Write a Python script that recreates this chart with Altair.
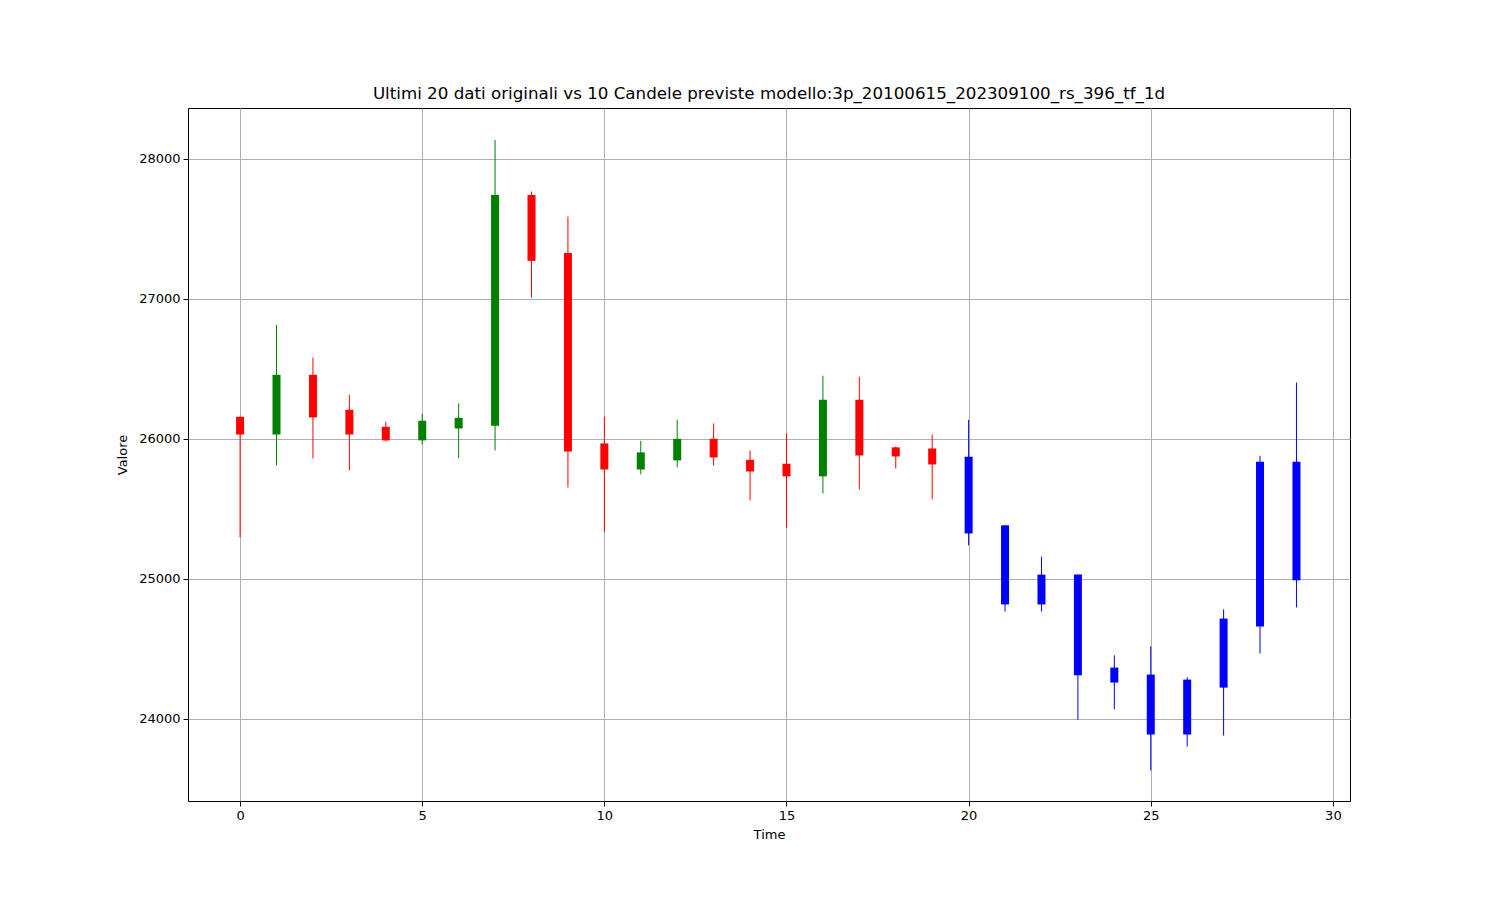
import altair as alt
import pandas as pd

t = list(range(30))
opens = [26158, 26032, 26458, 26208, 26087, 25990, 26075, 26094, 27743, 27329,
         25968, 25782, 25847, 26001, 25851, 25823, 25733, 26280, 25940, 25932,
         25873, 25383, 25031, 25031, 24367, 24317, 24281, 24717, 25837, 25837]
closes = [26032, 26458, 26154, 26032, 25990, 26130, 26151, 27743, 27272, 25911,
          25782, 25904, 26001, 25868, 25768, 25733, 26280, 25882, 25875, 25818,
          25325, 24818, 24818, 24312, 24260, 23889, 23889, 24224, 24660, 24990]
highs = [26160, 26815, 26582, 26315, 26123, 26180, 26254, 28136, 27767, 27588,
         26158, 25987, 26137, 26111, 25918, 26039, 26451, 26444, 25947, 26032,
         26137, 25383, 25159, 25031, 24455, 24519, 24298, 24783, 25880, 26403]
lows = [25297, 25811, 25861, 25775, 25982, 25961, 25861, 25918, 27010, 25654,
        25333, 25747, 25797, 25811, 25561, 25368, 25611, 25640, 25789, 25568,
        25240, 24767, 24767, 23995, 24069, 23632, 23803, 23882, 24467, 24797]
colors = ["red", "green", "red", "red", "red", "green", "green", "green", "red", "red",
          "red", "green", "green", "red", "red", "red", "green", "red", "red", "red",
          "blue", "blue", "blue", "blue", "blue", "blue", "blue", "blue", "blue", "blue"]

df = pd.DataFrame({"t": t, "open": opens, "close": closes, "high": highs,
                   "low": lows, "col": colors})

xs = alt.Scale(domain=[-1.43, 30.47], nice=False, zero=False, padding=0)
ys = alt.Scale(domain=[23414, 28364], nice=False, zero=False, padding=0)

base = alt.Chart(df)

wick = base.mark_rule(strokeWidth=1).encode(
    x=alt.X("t:Q", scale=xs,
            axis=alt.Axis(title="Time", values=[0, 5, 10, 15, 20, 25, 30], format="d")),
    y=alt.Y("low:Q", scale=ys,
            axis=alt.Axis(title="Valore", values=[24000, 25000, 26000, 27000, 28000], format="d")),
    y2="high:Q",
    color=alt.Color("col:N", scale=None),
)

body = base.mark_bar(size=8).encode(
    x=alt.X("t:Q", scale=xs),
    y=alt.Y("open:Q", scale=ys),
    y2="close:Q",
    color=alt.Color("col:N", scale=None),
)

chart = (wick + body).properties(
    width=1162,
    height=693,
    title=alt.Title("Ultimi 20 dati originali vs 10 Candele previste modello:3p_20100615_202309100_rs_396_tf_1d",
                    fontSize=16.7, font="DejaVu Sans", fontWeight="normal", color="black",
                    offset=5, anchor="middle"),
    autosize=alt.AutoSizeParams(type="none"),
    padding={"left": 180, "top": 100, "right": 140, "bottom": 90},
    background="white",
).configure_view(
    stroke="black", strokeWidth=1
).configure_axis(
    grid=True, gridColor="#b0b0b0", gridWidth=1,
    domain=False,
    tickColor="black", tickSize=5, tickWidth=1,
    labelFont="DejaVu Sans", labelFontSize=13, labelColor="black", labelPadding=3,
    titleFont="DejaVu Sans", titleFontSize=13, titleFontWeight="normal", titleColor="black",
).configure_axisX(
    titlePadding=6
).configure_axisY(
    titlePadding=9
)

chart.save("out.html", embed_options={"renderer": "svg", "actions": False})
